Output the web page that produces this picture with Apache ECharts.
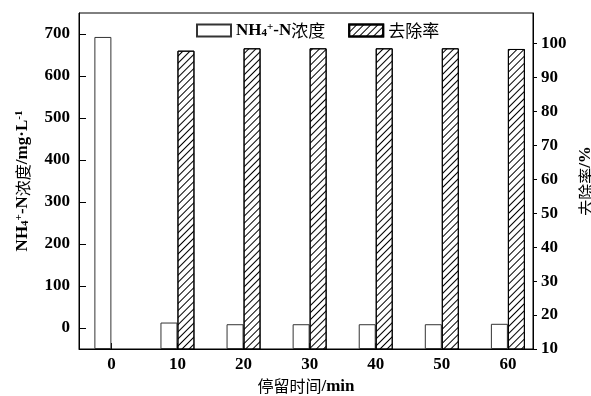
<!DOCTYPE html>
<html>
<head>
<meta charset="utf-8">
<script src="https://cdn.jsdelivr.net/npm/echarts@6/dist/echarts.min.js"></script>
<style>
  html, body { margin: 0; padding: 0; background: #fff; }
  #chart { width: 591px; height: 396px; }
</style>
</head>
<body>
<div id="chart"></div>
<script>
// Retention time (min)
const times = [0, 10, 20, 30, 40, 50, 60];
// NH4+-N concentration (mg/L)
const nh4Conc = [693, 13, 9, 9, 9, 9, 10];
// Removal rate (%), no value at time 0
const removalRate = [null, 97.9, 98.6, 98.6, 98.6, 98.6, 98.4];
// Tick values
const leftTicks = [0, 100, 200, 300, 400, 500, 600, 700];
const rightTicks = [10, 20, 30, 40, 50, 60, 70, 80, 90, 100];

const serif = 'Liberation Serif';
const cjk = 'Noto Sans CJK SC';

const richText = {
  b: { fontFamily: serif, fontWeight: 'bold', fontSize: 17, color: '#000' },
  sub: { fontFamily: serif, fontWeight: 'bold', fontSize: 11, color: '#000', verticalAlign: 'bottom', padding: [6, 0, 0, 0] },
  sup: { fontFamily: serif, fontWeight: 'bold', fontSize: 11, color: '#000', verticalAlign: 'top', padding: [0, 0, 6, 0] },
  cn: { fontFamily: cjk, fontWeight: 'normal', fontSize: 16, color: '#000' }
};

const legendRich = Object.assign({}, richText, {
  cn: { fontFamily: cjk, fontWeight: 'normal', fontSize: 17, color: '#000' }
});

const tickFont = { fontFamily: serif, fontWeight: 'bold', fontSize: 17, color: '#000' };

const chart = echarts.init(document.getElementById('chart'), null, { renderer: 'canvas' });

const option = {
  backgroundColor: '#fff',
  animation: false,
  grid: {
    left: 79, right: 58, top: 13, bottom: 47,
    outerBoundsMode: 'none',
    containLabel: false,
    show: true, borderColor: '#000', borderWidth: 1, backgroundColor: 'transparent'
  },
  legend: {
    left: 191, top: 17,
    icon: 'rect',
    itemWidth: 34, itemHeight: 12, itemGap: 23,
    selectedMode: false,
    data: ['NH4', 'rate'],
    formatter: function (name) {
      return name === 'NH4' ? '{b|NH}{sub|4}{sup|+}{b|-N}{cn|浓度}' : '{cn|去除率}';
    },
    textStyle: { rich: legendRich }
  },
  xAxis: {
    type: 'value',
    min: -4.9, max: 63.8,
    splitLine: { show: false },
    axisLine: { onZero: false, lineStyle: { color: '#000', width: 1 } },
    axisTick: { inside: true, length: 6, lineStyle: { color: '#000' }, customValues: times },
    axisLabel: Object.assign({ customValues: times, margin: 7 }, tickFont),
    name: '{cn|停留时间}{b|/min}',
    nameLocation: 'middle', nameGap: 26,
    nameTextStyle: { rich: richText }
  },
  yAxis: [
    {
      type: 'value',
      min: -50, max: 750, startValue: -50,
      splitLine: { show: false },
      axisLine: { show: true, onZero: false, lineStyle: { color: '#000', width: 1 } },
      axisTick: { inside: true, length: 7, lineStyle: { color: '#000' }, customValues: leftTicks },
      axisLabel: Object.assign({ customValues: leftTicks, margin: 9 }, tickFont),
      name: '{b|NH}{sub|4}{sup|+}{b|-N}{cn|浓度}{b|/mg·L}{sup|-1}',
      nameLocation: 'middle', nameGap: 48, nameRotate: 90,
      nameTextStyle: { rich: richText }
    },
    {
      type: 'value',
      min: 10, max: 109,
      position: 'right',
      splitLine: { show: false },
      axisLine: { show: true, onZero: false, lineStyle: { color: '#000', width: 1 } },
      axisTick: { inside: false, length: 4, lineStyle: { color: '#000' }, customValues: rightTicks },
      axisLabel: Object.assign({ customValues: rightTicks, margin: 8 }, tickFont),
      name: '{cn|去除率}{b|/%}',
      nameLocation: 'middle', nameGap: 40, nameRotate: 90,
      nameTextStyle: { rich: richText }
    }
  ],
  series: [
    {
      name: 'NH4',
      type: 'bar',
      yAxisIndex: 0,
      barWidth: 17,
      barGap: '0%',
      itemStyle: { color: '#fff', borderColor: '#333', borderWidth: 1 },
      data: times.map((t, i) => [t, nh4Conc[i]])
    },
    {
      name: 'rate',
      type: 'bar',
      yAxisIndex: 1,
      barWidth: 17,
      barGap: '0%',
      itemStyle: {
        color: '#fff', borderColor: '#000', borderWidth: 1,
        decal: {
          symbol: 'rect', symbolSize: 1,
          dashArrayX: [1, 0], dashArrayY: [1, 4],
          rotation: -Math.PI / 4, color: '#000'
        }
      },
      data: times.map((t, i) => [t, removalRate[i]])
    }
  ]
};

chart.setOption(option);
</script>
</body>
</html>
